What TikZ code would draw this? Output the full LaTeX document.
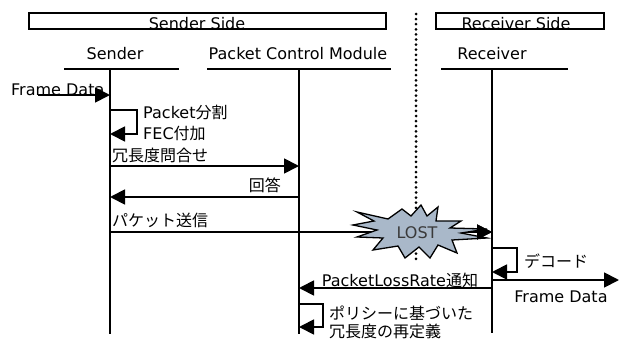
\documentclass[tikz,border=0pt]{standalone}
\usepackage{fontspec}
\setmainfont{DejaVu Sans}
\newfontfamily\jp{Noto Sans CJK JP}
\usetikzlibrary{arrows.meta}
\definecolor{starfill}{HTML}{A9B8C9}
\definecolor{losttext}{HTML}{3A3A3A}
\begin{document}
\begin{tikzpicture}[x=1pt,y=-1pt,
  every node/.style={font=\fontsize{16}{19}\selectfont, inner sep=0pt},
  ln/.style={line width=1.8pt},
  msg/.style={line width=1.8pt, line join=miter, -{Triangle[length=15pt,width=15pt]}},
  dotmark/.style={fill=black, draw=none},
]
\useasboundingbox (0,0) rectangle (621,340);

% side boxes
\draw[ln] (29,13) rectangle (386,29);
\draw[ln] (436,13) rectangle (604,29);
\node[anchor=base] (senderside) at (197,29.5) {Sender Side};
\node[anchor=base] (receiverside) at (516,29.5) {Receiver Side};

% separator (dotted)
\foreach \yy in {14,19.1,...,262} {
  \fill[dotmark] (416,\yy) circle[radius=1.5pt];
}

% headers
\node[anchor=base] (snd) at (115,59) {Sender};
\node[anchor=base] (pcm) at (298,59) {Packet Control Module};
\node[anchor=base] (rcv) at (492,59) {Receiver};
\draw[ln] (64,69) -- (179,69);
\draw[ln] (207,69) -- (391,69);
\draw[ln] (441,69) -- (568,69);

% lifelines
\coordinate (sT) at (110,69); \coordinate (sB) at (110,334);
\coordinate (pT) at (299,69); \coordinate (pB) at (299,334);
\coordinate (rT) at (492,69); \coordinate (rB) at (492,333);
\draw[ln] (sT) -- (sB);
\draw[ln] (pT) -- (pB);
\draw[ln] (rT) -- (rB);

% Frame Data in
\node[anchor=base west] (fdin) at (11,95) {Frame Data};
\coordinate (fin) at (38,95);
\draw[msg] (fin) -- (sT |- fin);

% packet split loop
\draw[msg] (sT |- 0,110) -| (137,134) -- (sT |- 0,134);
\node[anchor=base west] (split) at (143,118) {Packet{\jp 分割}};
\node[anchor=base west] (fec) at (143,139) {FEC{\jp 付加}};

% redundancy query
\draw[msg] (sT |- 0,166) -- (pT |- 0,166);
\node[anchor=base west] (query) at (112,161) {\jp 冗長度問合せ};

% answer
\draw[msg] (pT |- 0,197) -- (sT |- 0,197);
\node[anchor=base east] (answer) at (281,191) {\jp 回答};

% packet send
\node[anchor=base west] (send) at (112,226) {\jp パケット送信};
\draw[msg] (sT |- 0,232) -- (rT |- 0,232);

% LOST star
\draw[line width=1.3pt, fill=starfill, line join=miter]
  (357,212) -- (388,219) -- (402,209) -- (411,216) -- (421,205) -- (427,216)
  -- (438,207) -- (436,221) -- (461,221) -- (450,228) -- (487,229) -- (461,233)
  -- (487,238) -- (452,240) -- (457,253) -- (438,245) -- (430,258) -- (419,247)
  -- (405,258) -- (398,246) -- (373,250) -- (383,238) -- (357,237) -- (377,230)
  -- (353,225) -- (374,221) -- cycle;
\node[text=losttext] (lost) at (417,233) {LOST};
\coordinate (lostR) at (472,232);
\draw[msg] (lostR) -- (rT |- lostR);

% decode loop
\draw[msg] (rT |- 0,248) -| (517,272) -- (rT |- 0,272);
\node[anchor=base west] (decode) at (524,267) {\jp デコード};

% Frame Data out
\coordinate (fout) at (619,280);
\draw[msg] (rT |- fout) -- (fout);
\node[anchor=base] (fdout) at (561,302) {Frame Data};

% packet loss rate
\draw[msg] (rT |- 0,288) -- (pT |- 0,288);
\node[anchor=base] (plr) at (400,286) {PacketLossRate{\jp 通知}};

% policy loop
\draw[msg] (pT |- 0,304) -| (323,327) -- (pT |- 0,327);
\node[anchor=base west] (policy1) at (329,319) {\jp ポリシーに基づいた};
\node[anchor=base west] (policy2) at (329,337) {\jp 冗長度の再定義};
\end{tikzpicture}
\end{document}
